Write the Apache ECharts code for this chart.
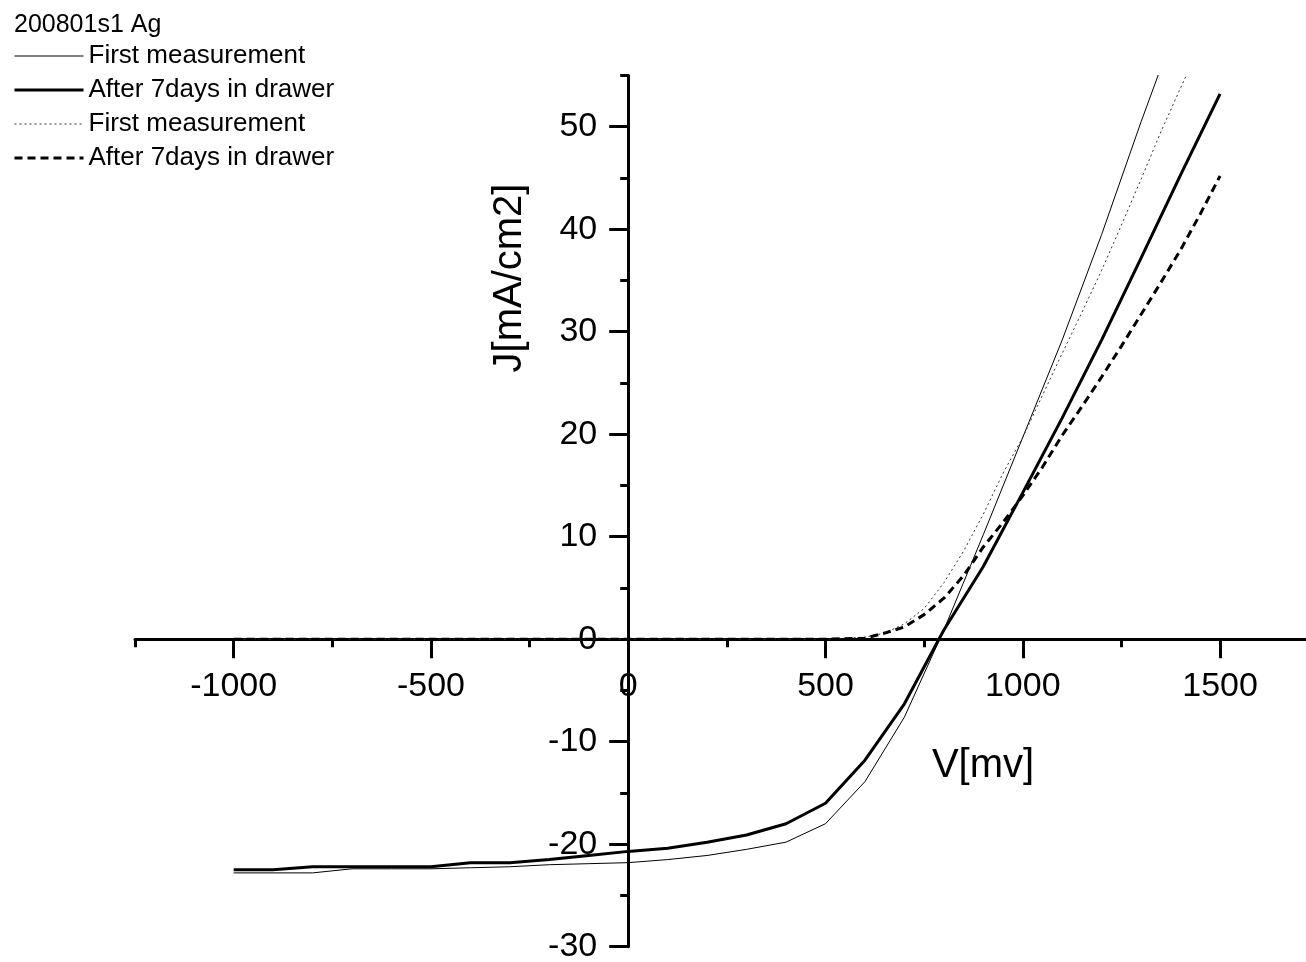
<!DOCTYPE html>
<html>
<head>
<meta charset="utf-8">
<script src="https://cdn.jsdelivr.net/npm/echarts@6/dist/echarts.min.js"></script>
<style>
  html, body { margin: 0; padding: 0; background: #fff; }
  #chart { width: 1306px; height: 962px; }
</style>
</head>
<body>
<div id="chart"></div>
<script>
// Voltage sweep (mV) used for the full light/dark sweeps, 100 mV steps
const vSweep = [-1000, -900, -800, -700, -600, -500, -400, -300, -200, -100, 0,
  100, 200, 300, 400, 500, 600, 700, 800, 900, 1000, 1100, 1200, 1300, 1400, 1500];

// Current density (mA/cm2) on the full sweep
const jFirst = [-22.8, -22.8, -22.8, -22.4, -22.4, -22.4, -22.3, -22.2, -22.0, -21.9, -21.8,
  -21.5, -21.1, -20.5, -19.8, -18.0, -13.9, -7.6, 0.9, 10.2, 19.7, 29.2, 39.5, 50.5, 61.0, null];
const jAfter = [-22.5, -22.5, -22.2, -22.2, -22.2, -22.2, -21.8, -21.8, -21.5, -21.1, -20.7,
  -20.4, -19.8, -19.1, -18.0, -16.0, -11.8, -6.3, 0.9, 7.1, 14.3, 21.6, 29.2, 37.2, 45.3, 53.2];

// Voltage points (mV) of the second pair of sweeps, finer above 600 mV
const vForward = [-1000, -900, -800, -700, -600, -500, -400, -300, -200, -100, 0,
  100, 200, 300, 400, 500, 600, 650, 700, 750, 800, 850, 900, 950, 1000,
  1050, 1100, 1150, 1200, 1250, 1300, 1350, 1400, 1450, 1500];
const jFirstForward = [0, 0, 0, 0, 0, 0, 0, 0, 0, 0, 0,
  0, 0, 0, 0, 0, 0.2, 0.6, 1.5, 3.0, 5.5, 8.6, 12.2, 16.2, 19.7,
  23.8, 27.9, 31.9, 36.0, 40.4, 44.9, 49.5, 53.8, 58.0, null];
const jAfterForward = [0, 0, 0, 0, 0, 0, 0, 0, 0, 0, 0,
  0, 0, 0, 0, 0, 0.1, 0.6, 1.2, 2.4, 4.0, 6.2, 9.0, 11.4, 14.0,
  16.8, 19.9, 22.7, 25.6, 28.6, 31.7, 34.8, 38.0, 41.5, 45.2];

// Tick positions
const xMajorTicks = [-1000, -500, 0, 500, 1000, 1500];
const xMinorTicks = [-1250, -750, -250, 250, 750, 1250, 1750];
const yMajorTicks = [-30, -20, -10, 0, 10, 20, 30, 40, 50];
const yMinorTicks = [-25, -15, -5, 5, 15, 25, 35, 45, 55];

// Legend captions
const legendText = {
  firstA: 'First measurement',
  afterA: 'After 7days in drawer',
  firstB: 'First measurement',
  afterB: 'After 7days in drawer'
};

const FONT = '"Liberation Sans", Arial, Helvetica, sans-serif';
const pairs = (xs, ys) => xs.map((x, i) => [x, ys[i]]);

// Plot area and axis ranges
const X_MIN = -1250, X_MAX = 1750, Y_MIN = -30, Y_MAX = 55;
const GRID = { left: 135, right: -12.7, top: 75.5, bottom: 15.3 };
const W = 1306, H = 962;
const plotW = W - GRID.left - GRID.right;
const plotH = H - GRID.top - GRID.bottom;
// Axes cross at the origin: shift each axis from the grid edge to zero
const xAxisShift = -plotH * (0 - Y_MIN) / (Y_MAX - Y_MIN);
const yAxisShift = -plotW * (0 - X_MIN) / (X_MAX - X_MIN);

const chart = echarts.init(document.getElementById('chart'), null, { renderer: 'canvas' });

const axisLine = { onZero: false, lineStyle: { color: '#000', width: 3 } };
const plainNumber = v => String(v);

chart.setOption({
  animation: false,
  backgroundColor: '#fff',
  title: {
    text: '200801s1 Ag',
    left: 9, top: 8,
    textStyle: { fontFamily: FONT, fontSize: 25, fontWeight: 'normal', color: '#000' }
  },
  legend: {
    orient: 'vertical',
    left: 8, top: 38,
    itemWidth: 69, itemHeight: 14, itemGap: 8,
    itemStyle: { opacity: 0 },
    data: [
      { name: 'firstA', lineStyle: { width: 1 } },
      { name: 'afterA', lineStyle: { width: 3 } },
      { name: 'firstB', lineStyle: { width: 1 } },
      { name: 'afterB', lineStyle: { width: 3 } }
    ],
    formatter: name => legendText[name],
    textStyle: { fontFamily: FONT, fontSize: 26, color: '#000' },
    selectedMode: false
  },
  grid: Object.assign({ containLabel: false, outerBoundsMode: 'none' }, GRID),
  xAxis: [{
    type: 'value', min: X_MIN, max: X_MAX, position: 'bottom', offset: xAxisShift,
    axisLine: axisLine,
    splitLine: { show: false },
    axisTick: { customValues: xMajorTicks, length: 19, lineStyle: { color: '#000', width: 3 } },
    axisLabel: { customValues: xMajorTicks, formatter: plainNumber, margin: 30,
      fontFamily: FONT, fontSize: 34, color: '#000' }
  }, {
    type: 'value', min: X_MIN, max: X_MAX, position: 'bottom', offset: xAxisShift,
    axisLine: { show: false, onZero: false },
    splitLine: { show: false },
    axisTick: { customValues: xMinorTicks, length: 8, lineStyle: { color: '#000', width: 3 } },
    axisLabel: { show: false }
  }],
  yAxis: [{
    type: 'value', min: Y_MIN, max: Y_MAX, position: 'left', offset: yAxisShift,
    axisLine: axisLine,
    splitLine: { show: false },
    axisTick: { customValues: yMajorTicks, length: 19, lineStyle: { color: '#000', width: 3 } },
    axisLabel: { customValues: yMajorTicks, formatter: plainNumber, margin: 31,
      fontFamily: FONT, fontSize: 34, color: '#000' }
  }, {
    type: 'value', min: Y_MIN, max: Y_MAX, position: 'left', offset: yAxisShift,
    axisLine: { show: false, onZero: false },
    splitLine: { show: false },
    axisTick: { customValues: yMinorTicks, length: 8, lineStyle: { color: '#000', width: 3 } },
    axisLabel: { show: false }
  }],
  graphic: [{
    type: 'text', x: 510, y: 278, rotation: Math.PI / 2,
    style: { text: 'J[mA/cm2]', font: '40px ' + FONT, fill: '#000', align: 'center', verticalAlign: 'middle' }
  }, {
    type: 'text', x: 983, y: 766,
    style: { text: 'V[mv]', font: '40px ' + FONT, fill: '#000', align: 'center', verticalAlign: 'middle' }
  }],
  series: [{
    name: 'firstA', type: 'line', data: pairs(vSweep, jFirst),
    symbol: 'none', lineStyle: { color: '#000', width: 1, type: 'solid' }, itemStyle: { color: '#000' }
  }, {
    name: 'afterA', type: 'line', data: pairs(vSweep, jAfter),
    symbol: 'none', lineStyle: { color: '#000', width: 3, type: 'solid' }, itemStyle: { color: '#000' }
  }, {
    name: 'firstB', type: 'line', data: pairs(vForward, jFirstForward),
    symbol: 'none', lineStyle: { color: '#333', width: 1, type: [2, 3] }, itemStyle: { color: '#333' }
  }, {
    name: 'afterB', type: 'line', data: pairs(vForward, jAfterForward),
    symbol: 'none', lineStyle: { color: '#000', width: 3, type: [8, 5] }, itemStyle: { color: '#000' }
  }]
});
</script>
</body>
</html>
